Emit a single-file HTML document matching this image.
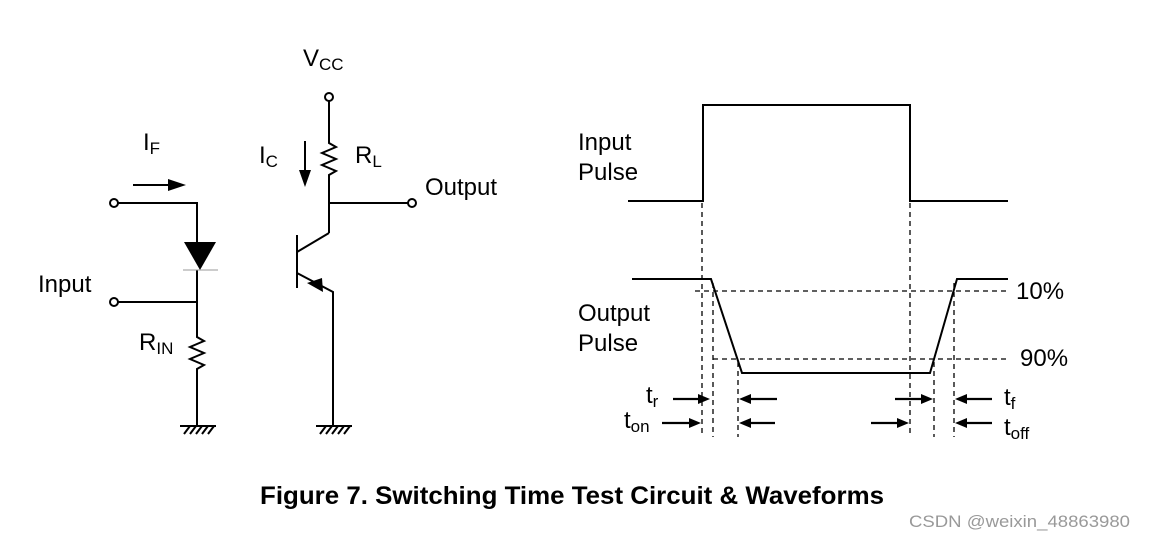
<!DOCTYPE html>
<html><head><meta charset="utf-8"><style>
html,body{margin:0;padding:0;background:#fff;width:1155px;height:539px;overflow:hidden}
svg{display:block}
text{font-family:"Liberation Sans",sans-serif;fill:#000}
</style></head><body>
<svg width="1155" height="539" viewBox="0 0 1155 539" xmlns="http://www.w3.org/2000/svg">
<g stroke="#000" stroke-width="2" fill="none">
<circle cx="114" cy="203" r="4" fill="#fff"/>
<path d="M118 203H197V242"/>
<path d="M197 270V337l7 4-14 6 14 6-14 6 14 6-7 4V426"/>
<circle cx="114" cy="302" r="4" fill="#fff"/>
<path d="M118 302H197"/>
<path d="M180 426h36M184 434l6-8M190 434l6-8M196 434l6-8M202 434l6-8M208 434l6-8"/>
<path d="M133 185H170"/>
<circle cx="329" cy="97" r="4" fill="#fff"/>
<path d="M329 101V143l7 4-14 6 14 6-14 6 14 6-7 4V233"/>
<path d="M329 203H408"/>
<circle cx="412" cy="203" r="4" fill="#fff"/>
<path d="M329 233L297 252M297 235V288M297 273L333 292V426"/>
<path d="M316 426h36M320 434l6-8M326 434l6-8M332 434l6-8M338 434l6-8M344 434l6-8"/>
<path d="M305 141V172"/>
<path d="M628 201H703V105H910V201H1008"/>
<path d="M632 279H711L742 373H930L957 279H1008"/>
</g>
<path d="M184 242H216L200 270Z" fill="#000"/>
<path d="M183 270H218" stroke="#999" stroke-width="1"/>
<path d="M168 179L186 185L168 191Z" fill="#000"/>
<path d="M299 170L305 187L311 170Z" fill="#000"/>
<path d="M307 283L322 278L323 292Z" fill="#000"/>
<g stroke="#000" stroke-width="1.3" stroke-dasharray="5,4" fill="none">
<path d="M695 291H1008M713 359H1010"/>
<path d="M702 203V437M713 283V437M738 362V437M910 203V437M934 362V437M954 283V437"/>
</g>
<g stroke="#000" stroke-width="2.2">
<path d="M673 399H700M777 399H751M895 399H922M992 399H966M662 423H690M775 423H751M871 423H898M992 423H966"/>
</g>
<g fill="#000">
<path d="M710 399l-12-5v10z M739 399l12-5v10z M933 399l-12-5v10z M955 399l12-5v10z M701 423l-12-5v10z M739 423l12-5v10z M909 423l-12-5v10z M955 423l12-5v10z"/>
</g>
<g font-size="24">
<text x="303" y="66">V<tspan font-size="17" dy="4">CC</tspan></text>
<text x="143" y="150">I<tspan font-size="17" dy="4">F</tspan></text>
<text x="259" y="163">I<tspan font-size="17" dy="4">C</tspan></text>
<text x="355" y="163">R<tspan font-size="17" dy="4">L</tspan></text>
<text x="425" y="195">Output</text>
<text x="38" y="292">Input</text>
<text x="139" y="350">R<tspan font-size="17" dy="4">IN</tspan></text>
<text x="578" y="150">Input</text>
<text x="578" y="180">Pulse</text>
<text x="578" y="321">Output</text>
<text x="578" y="351">Pulse</text>
<text x="1016" y="299">10%</text>
<text x="1020" y="366">90%</text>
<text x="646" y="403">t<tspan font-size="17" dy="4">r</tspan></text>
<text x="624" y="428">t<tspan font-size="17" dy="4">on</tspan></text>
<text x="1004" y="405">t<tspan font-size="17" dy="4">f</tspan></text>
<text x="1004" y="435">t<tspan font-size="17" dy="4">off</tspan></text>
</g>
<text x="572" y="504" font-size="25" font-weight="bold" text-anchor="middle" textLength="624" lengthAdjust="spacingAndGlyphs">Figure 7. Switching Time Test Circuit &amp; Waveforms</text>
<text x="909" y="527" font-size="17" style="fill:#999" textLength="221" lengthAdjust="spacingAndGlyphs">CSDN @weixin_48863980</text>
</svg>
</body></html>
